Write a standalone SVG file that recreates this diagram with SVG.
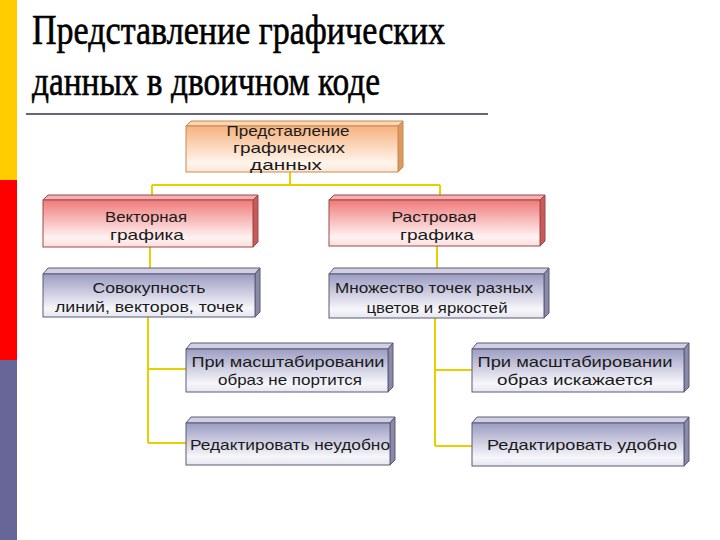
<svg xmlns="http://www.w3.org/2000/svg" width="720" height="540" viewBox="0 0 720 540">
<defs>
<linearGradient id="gOr" x1="0" y1="0" x2="0" y2="1"><stop offset="0" stop-color="#f6b27e"/><stop offset="0.8" stop-color="#fff4ec"/><stop offset="1" stop-color="#fde6d6"/></linearGradient>
<linearGradient id="gRd" x1="0" y1="0" x2="0" y2="1"><stop offset="0" stop-color="#f07a7a"/><stop offset="0.8" stop-color="#fff2f2"/><stop offset="1" stop-color="#fbdede"/></linearGradient>
<linearGradient id="gGy" x1="0" y1="0" x2="0" y2="1"><stop offset="0" stop-color="#9c9cc2"/><stop offset="0.8" stop-color="#f6f6fb"/><stop offset="1" stop-color="#e6e6f0"/></linearGradient>
</defs>
<style>
.t{font-family:"Liberation Sans","DejaVu Sans",sans-serif;font-size:15px;fill:#1a1a1a;text-anchor:middle}
.ttl{font-family:"Liberation Serif","DejaVu Serif",serif;font-size:42px;fill:#000;stroke:#000;stroke-width:0.6}
.con{fill:none;stroke:#e8cf00;stroke-width:2}
.or{stroke:#c88a50}.rd{stroke:#a04848}.gy{stroke:#5a5a78}
.topOr{fill:#fbd6b4}.sideOr{fill:#e0985e}
.topRd{fill:#f7b0b0}.sideRd{fill:#c85a5a}
.topGy{fill:#d0d0e2}.sideGy{fill:#8a8aa8}
</style>
<rect x="0" y="0" width="720" height="540" fill="#fff"/>
<rect x="0" y="0" width="17" height="180" fill="#ffcc00"/>
<rect x="0" y="180" width="17" height="180" fill="#ff0000"/>
<rect x="0" y="360" width="17" height="180" fill="#666699"/>
<text class="ttl" x="32" y="44" textLength="413" lengthAdjust="spacingAndGlyphs">Представление графических</text>
<text class="ttl" x="32" y="95" textLength="348" lengthAdjust="spacingAndGlyphs">данных в двоичном коде</text>
<rect x="26" y="113" width="462" height="2" fill="#666677"/>
<g id="connectors">
<path class="con" d="M290 172V185M152 185H440M152 185V200M440 185V200"/>
<path class="con" d="M150 247V274M437 246V274"/>
<path class="con" d="M148 317V443M148 369H186M148 443H186"/>
<path class="con" d="M435 318V446M435 370H472M435 446H472"/>
</g>
<g id="n1">
<polygon class="topOr or" points="186,126 191,121 403,121 398,126" stroke-width="1"/>
<polygon class="sideOr or" points="398,126 403,121 403,167 398,172" stroke-width="1"/>
<rect x="186" y="126" width="212" height="46" fill="url(#gOr)" class="or" stroke-width="1"/>
<text class="t" x="288" y="136" textLength="123" lengthAdjust="spacingAndGlyphs">Представление</text>
<text class="t" x="289" y="153" textLength="112" lengthAdjust="spacingAndGlyphs">графических</text>
<text class="t" x="286" y="170" textLength="72" lengthAdjust="spacingAndGlyphs">данных</text>
</g>
<g id="n2">
<polygon class="topRd rd" points="43,200 48,195 258,195 253,200" stroke-width="1"/>
<polygon class="sideRd rd" points="253,200 258,195 258,242 253,247" stroke-width="1"/>
<rect x="43" y="200" width="210" height="47" fill="url(#gRd)" class="rd" stroke-width="1"/>
<text class="t" x="146" y="222" textLength="82" lengthAdjust="spacingAndGlyphs">Векторная</text>
<text class="t" x="147" y="240" textLength="74" lengthAdjust="spacingAndGlyphs">графика</text>
</g>
<g id="n3">
<polygon class="topRd rd" points="329,200 334,195 545,195 540,200" stroke-width="1"/>
<polygon class="sideRd rd" points="540,200 545,195 545,241 540,246" stroke-width="1"/>
<rect x="329" y="200" width="211" height="46" fill="url(#gRd)" class="rd" stroke-width="1"/>
<text class="t" x="434" y="222" textLength="85" lengthAdjust="spacingAndGlyphs">Растровая</text>
<text class="t" x="437" y="240" textLength="74" lengthAdjust="spacingAndGlyphs">графика</text>
</g>
<g id="n4">
<polygon class="topGy gy" points="43,274 48,268 260,268 255,274" stroke-width="1"/>
<polygon class="sideGy gy" points="255,274 260,268 260,312 255,317" stroke-width="1"/>
<rect x="43" y="274" width="212" height="43" fill="url(#gGy)" class="gy" stroke-width="1"/>
<text class="t" x="149" y="293" textLength="113" lengthAdjust="spacingAndGlyphs">Совокупность</text>
<text class="t" x="149" y="312" textLength="188" lengthAdjust="spacingAndGlyphs">линий, векторов,  точек</text>
</g>
<g id="n5">
<polygon class="topGy gy" points="329,274 334,268 549,268 544,274" stroke-width="1"/>
<polygon class="sideGy gy" points="544,274 549,268 549,313 544,318" stroke-width="1"/>
<rect x="329" y="274" width="215" height="44" fill="url(#gGy)" class="gy" stroke-width="1"/>
<text class="t" x="434" y="293" textLength="198" lengthAdjust="spacingAndGlyphs">Множество точек разных</text>
<text class="t" x="437" y="313" textLength="141" lengthAdjust="spacingAndGlyphs">цветов и яркостей</text>
</g>
<g id="n6">
<polygon class="topGy gy" points="186,349 191,343 393,343 388,349" stroke-width="1"/>
<polygon class="sideGy gy" points="388,349 393,343 393,387 388,392" stroke-width="1"/>
<rect x="186" y="349" width="202" height="43" fill="url(#gGy)" class="gy" stroke-width="1"/>
<text class="t" x="288" y="367" textLength="193" lengthAdjust="spacingAndGlyphs">При масштабировании</text>
<text class="t" x="290" y="385" textLength="144" lengthAdjust="spacingAndGlyphs">образ не портится</text>
</g>
<g id="n7">
<polygon class="topGy gy" points="186,423 191,417 395,417 390,423" stroke-width="1"/>
<polygon class="sideGy gy" points="390,423 395,417 395,460 390,465" stroke-width="1"/>
<rect x="186" y="423" width="204" height="42" fill="url(#gGy)" class="gy" stroke-width="1"/>
<text class="t" x="290" y="450" textLength="200" lengthAdjust="spacingAndGlyphs">Редактировать неудобно</text>
</g>
<g id="n8">
<polygon class="topGy gy" points="472,349 477,343 689,343 684,349" stroke-width="1"/>
<polygon class="sideGy gy" points="684,349 689,343 689,387 684,392" stroke-width="1"/>
<rect x="472" y="349" width="212" height="43" fill="url(#gGy)" class="gy" stroke-width="1"/>
<text class="t" x="575" y="367" textLength="195" lengthAdjust="spacingAndGlyphs">При масштабировании</text>
<text class="t" x="575" y="385" textLength="156" lengthAdjust="spacingAndGlyphs">образ искажается</text>
</g>
<g id="n9">
<polygon class="topGy gy" points="472,423 477,417 689,417 684,423" stroke-width="1"/>
<polygon class="sideGy gy" points="684,423 689,417 689,461 684,466" stroke-width="1"/>
<rect x="472" y="423" width="212" height="43" fill="url(#gGy)" class="gy" stroke-width="1"/>
<text class="t" x="582" y="450" textLength="190" lengthAdjust="spacingAndGlyphs">Редактировать удобно</text>
</g>
</svg>
